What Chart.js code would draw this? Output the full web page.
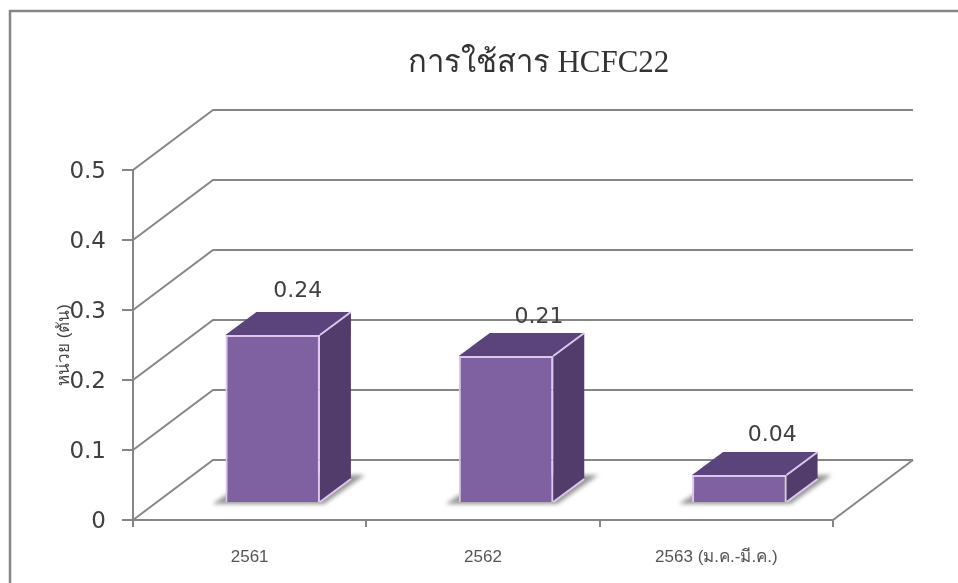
<!DOCTYPE html>
<html>
<head>
<meta charset="utf-8">
<title>การใช้สาร HCFC22</title>
<script src="https://cdn.jsdelivr.net/npm/chart.js@4"></script>
<style>
    html, body { margin: 0; padding: 0; background: #fff; }
    canvas { display: block; }
</style>
</head>
<body>
<canvas id="chart" width="958" height="583"></canvas>
<script>
// Values
const categories = ['2561', '2562', '2563 (ม.ค.-มี.ค.)'];
const usage = [0.24, 0.21, 0.04];
const valueLabels = ['0.24', '0.21', '0.04'];

const GREY = '#868686';
const TEXT = '#404040';
const LABEL_FONT = '22px "DejaVu Sans", sans-serif';

// Fake 3D depth: wall offset, bar offset on the floor, bar depth
const WALL = { x: 80, y: -60 };
const BAR_SHIFT = { x: 23, y: -17 };
const BAR_DEPTH = { x: 31, y: -23 };
// The value labels are not placed evenly in the original
const LABEL_NUDGE = [{ x: 25, y: -44 }, { x: 33, y: -39 }, { x: 33, y: -40 }];

function poly(ctx, pts, fill) {
    ctx.beginPath();
    pts.forEach((p, i) => i ? ctx.lineTo(p[0], p[1]) : ctx.moveTo(p[0], p[1]));
    ctx.closePath();
    ctx.fillStyle = fill;
    ctx.fill();
}

const depthPlugin = {
    id: 'depth',
    afterLayout(chart) {
        // title sits over the plot, not the page centre
        chart.titleBlock.left += 122;
        chart.titleBlock.right += 122;
    },
    beforeDraw(chart) {
        // outer frame, open on the right and at the bottom
        const ctx = chart.ctx;
        ctx.save();
        ctx.strokeStyle = GREY;
        ctx.lineWidth = 2.5;
        ctx.beginPath();
        ctx.moveTo(10, 583);
        ctx.lineTo(10, 11);
        ctx.lineTo(958, 11);
        ctx.stroke();
        ctx.restore();
    },
    beforeDatasetsDraw(chart) {
        const { ctx, chartArea: a, scales: { y } } = chart;
        ctx.save();
        ctx.strokeStyle = GREY;
        ctx.lineWidth = 2;
        y.ticks.forEach(t => {
            const py = y.getPixelForValue(t.value);
            ctx.beginPath();
            ctx.moveTo(a.left, py);
            ctx.lineTo(a.left + WALL.x, py + WALL.y);
            ctx.lineTo(a.right + WALL.x, py + WALL.y);
            ctx.stroke();
        });
        // right edge of the floor
        ctx.beginPath();
        ctx.moveTo(a.right, a.bottom);
        ctx.lineTo(a.right + WALL.x, a.bottom + WALL.y);
        ctx.stroke();
        ctx.restore();
    },
    beforeDatasetDraw(chart, args) {
        const ctx = chart.ctx;
        args.meta.data.forEach(bar => {
            const l = bar.x - bar.width / 2 + BAR_SHIFT.x;
            const r = bar.x + bar.width / 2 + BAR_SHIFT.x;
            const t = bar.y + BAR_SHIFT.y;
            const b = bar.base + BAR_SHIFT.y;
            const dx = BAR_DEPTH.x, dy = BAR_DEPTH.y;

            // floor shadow
            ctx.save();
            ctx.filter = 'blur(2px)';
            poly(ctx, [[l - 13, b + 2], [r + 4, b + 2], [r + dx + 14, b + dy - 4], [l + dx, b + dy - 4]], 'rgba(105,105,105,0.7)');
            ctx.restore();

            // side and top faces
            poly(ctx, [[r, t], [r + dx, t + dy], [r + dx, b + dy], [r, b]], '#513c6c');
            poly(ctx, [[l, t], [l + dx, t + dy], [r + dx, t + dy], [r, t]], '#5b437b');

            ctx.save();
            ctx.strokeStyle = '#dcc8ee';
            ctx.lineWidth = 2;
            ctx.beginPath();
            ctx.moveTo(r, t);
            ctx.lineTo(r + dx, t + dy);
            ctx.moveTo(r, b);
            ctx.lineTo(r + dx, b + dy);
            ctx.stroke();
            ctx.restore();
        });
        // front faces are moved back onto the floor
        ctx.save();
        ctx.translate(BAR_SHIFT.x, BAR_SHIFT.y);
    },
    afterDatasetDraw(chart) {
        chart.ctx.restore();
    },
    afterDatasetsDraw(chart) {
        const ctx = chart.ctx;
        ctx.save();
        ctx.font = LABEL_FONT;
        ctx.fillStyle = TEXT;
        ctx.textAlign = 'center';
        ctx.textBaseline = 'middle';
        chart.getDatasetMeta(0).data.forEach((bar, i) => {
            const n = LABEL_NUDGE[i];
            ctx.fillText(valueLabels[i], bar.x + BAR_SHIFT.x + n.x, bar.y + BAR_SHIFT.y + n.y);
        });
        ctx.restore();
    }
};

new Chart(document.getElementById('chart'), {
    type: 'bar',
    data: {
        labels: categories,
        datasets: [{
            label: 'การใช้สาร HCFC22',
            data: usage,
            backgroundColor: '#7f60a0',
            borderColor: '#dcc8ee',
            borderWidth: 2,
            barPercentage: 0.405,
            categoryPercentage: 1
        }]
    },
    options: {
        responsive: false,
        animation: false,
        layout: { padding: { left: 0, right: 125, top: 0, bottom: 0 } },
        plugins: {
            legend: { display: false },
            tooltip: { enabled: false },
            title: {
                display: true,
                text: 'การใช้สาร HCFC22',
                color: '#333',
                fullSize: true,
                font: { family: '"Liberation Serif", serif', size: 31, weight: 'normal', lineHeight: '40px' },
                padding: { top: 44, bottom: 86 }
            }
        },
        scales: {
            x: {
                afterFit: s => { s.height = 63; },
                border: { color: GREY, width: 2 },
                grid: { color: GREY, drawOnChartArea: false, tickLength: 7, lineWidth: 2 },
                ticks: { color: '#555', padding: 20, maxRotation: 0, font: { family: '"Liberation Sans", sans-serif', size: 17 } }
            },
            y: {
                min: 0,
                max: 0.5,
                afterFit: s => { s.width = 133; },
                border: { color: GREY, width: 2 },
                grid: { color: GREY, drawOnChartArea: false, tickLength: 11, lineWidth: 2 },
                ticks: { stepSize: 0.1, color: TEXT, padding: 16, labelOffset: 2, font: { family: '"DejaVu Sans", sans-serif', size: 23 } },
                title: {
                    display: true,
                    text: 'หน่วย (ตัน)',
                    color: '#444',
                    font: { family: '"Liberation Sans", sans-serif', size: 17 },
                    padding: { top: 54, bottom: 0 }
                }
            }
        }
    },
    plugins: [depthPlugin]
});
</script>
</body>
</html>
